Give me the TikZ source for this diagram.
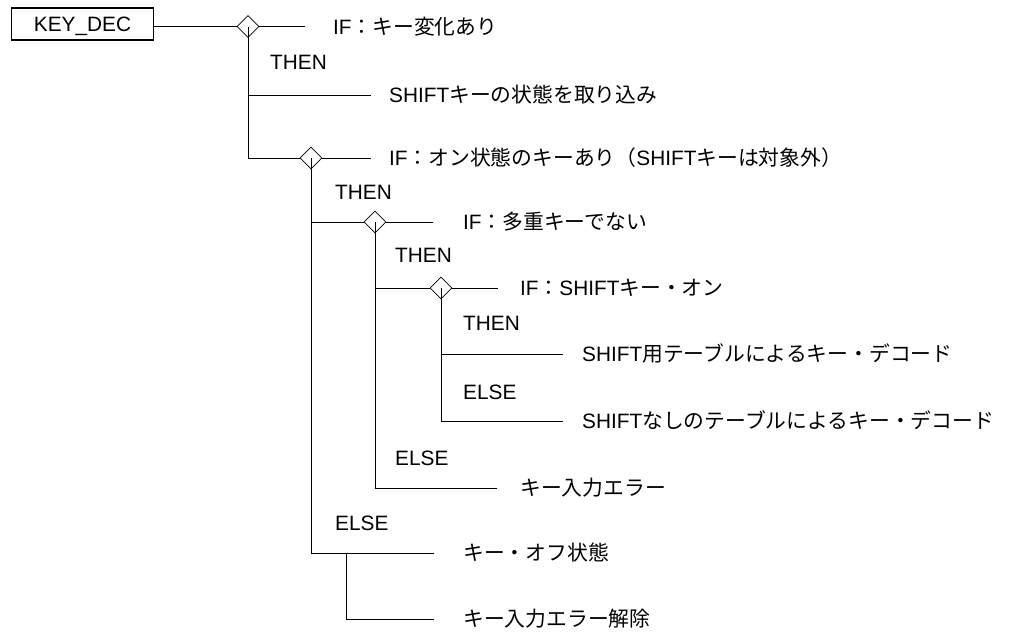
\documentclass[tikz,border=0pt]{standalone}
\usepackage{fontspec}
\setmainfont{Liberation Sans}
\newfontfamily\jp{Noto Sans CJK JP}
\newcommand{\J}[1]{{\jp #1}}
\usetikzlibrary{shapes.geometric}
\begin{document}
\begin{tikzpicture}[x=1pt,y=-1pt,
  ln/.style={line width=0.8pt},
  dia/.style={diamond, draw, line width=0.8pt, minimum width=22pt, minimum height=22pt, inner sep=0pt},
  txt/.style={anchor=west, inner sep=0pt, text height=15pt, text depth=0pt, font=\fontsize{20.8}{24}\selectfont},
  box/.style={draw, line width=1.8pt, minimum width=142pt, minimum height=32pt, inner sep=0pt, text height=15pt, text depth=0pt, font=\fontsize{20.8}{24}\selectfont}]
\useasboundingbox (0,0) rectangle (1009,632);
% nodes
\node[box] (key) at (82.5,24) {KEY\_DEC};
\node[dia] (d1) at (248,26.5) {};
\node[dia] (d2) at (311,158) {};
\node[dia] (d3) at (375,222) {};
\node[dia] (d4) at (441,288) {};
\coordinate (e1) at (305,26.5);
\coordinate (e2) at (371,95);
\coordinate (e3) at (371,158);
\coordinate (e4) at (433,222);
\coordinate (e5) at (498,288);
\coordinate (e6) at (563,354);
\coordinate (e7) at (563,421);
\coordinate (e8) at (497,488);
\coordinate (e9) at (434,553);
\coordinate (j) at (346,553);
\coordinate (e10) at (434,619);
% texts
\node[txt] (t1) at (333,26.5) {IF\J{：キー変化あり}};
\node[txt] (t2) at (389,95) {SHIFT\J{キーの状態を取り込み}};
\node[txt] (t3) at (389,158) {IF\J{：オン状態のキーあり（}SHIFT\J{キーは対象外）}};
\node[txt] (t4) at (463,222) {IF\J{：多重キーでない}};
\node[txt] (t5) at (520,288) {IF\J{：}SHIFT\J{キー・オン}};
\node[txt] (t6) at (582,354) {SHIFT\J{用テーブルによるキー・デコード}};
\node[txt] (t7) at (582,421) {SHIFT\J{なしのテーブルによるキー・デコード}};
\node[txt] (t8) at (520,488) {\J{キー入力エラー}};
\node[txt] (t9) at (463,553) {\J{キー・オフ状態}};
\node[txt] (t10) at (463,619) {\J{キー入力エラー解除}};
% labels
\node[txt] (l1) at (270,62) {THEN};
\node[txt] (l2) at (335,192) {THEN};
\node[txt] (l3) at (395,255) {THEN};
\node[txt] (l4) at (463,323) {THEN};
\node[txt] (l5) at (463,392) {ELSE};
\node[txt] (l6) at (395,458) {ELSE};
\node[txt] (l7) at (335,523) {ELSE};
% connectors
\draw[ln] (key.east |- d1) -- (d1.west);
\draw[ln] (d1.east) -- (e1);
\draw[ln] (d1.center) |- (d2.west);
\draw[ln] (d1 |- e2) -- (e2);
\draw[ln] (d2.east) -- (e3);
\draw[ln] (d2.center) |- (e9);
\draw[ln] (d2 |- d3) -- (d3.west);
\draw[ln] (d3.east) -- (e4);
\draw[ln] (d3.center) |- (e8);
\draw[ln] (d3 |- d4) -- (d4.west);
\draw[ln] (d4.east) -- (e5);
\draw[ln] (d4.center) |- (e7);
\draw[ln] (d4 |- e6) -- (e6);
\draw[ln] (j) |- (e10);
\end{tikzpicture}
\end{document}
